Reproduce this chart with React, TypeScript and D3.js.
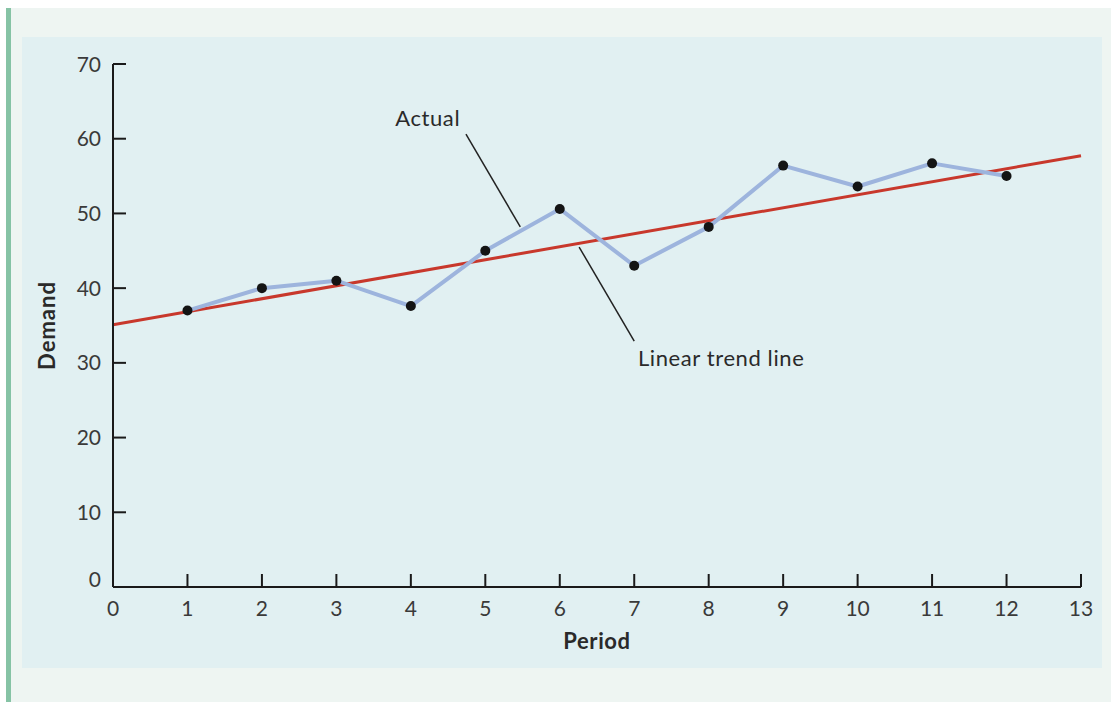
import React from "react";
import * as d3 from "d3";

const periods = [1, 2, 3, 4, 5, 6, 7, 8, 9, 10, 11, 12];
const demand = [37, 40, 41, 37.6, 45, 50.6, 43, 48.2, 56.4, 53.6, 56.7, 55];
const xTicks = [0, 1, 2, 3, 4, 5, 6, 7, 8, 9, 10, 11, 12, 13];
const yTicks = [0, 10, 20, 30, 40, 50, 60, 70];
const trendIntercept = 35.1;
const trendSlope = 1.74;
const trendRange = [0, 13];
const xLabel = "Period";
const yLabel = "Demand";
const annotations = [
  { text: "Actual", tx: 3.79, ty: 61.7, x1: 4.74, y1: 60.6, x2: 5.47, y2: 48.2 },
  { text: "Linear trend line", tx: 7.05, ty: 29.6, x1: 6.26, y1: 45.5, x2: 7.0, y2: 32.9 },
];

const W = 1111;
const H = 702;
const FONT = "Lato, 'Open Sans', sans-serif";

export default function App() {
  const x = d3.scaleLinear().domain([0, 13]).range([113, 1081]);
  const y = d3.scaleLinear().domain([0, 70]).range([587, 64]);
  const actualLine = d3
    .line<number>()
    .x((_, i) => x(periods[i]))
    .y((d) => y(d))(demand) as string;
  const trend = d3
    .line<number>()
    .x((d) => x(d))
    .y((d) => y(trendIntercept + trendSlope * d))(trendRange) as string;

  return (
    <svg
      width={W}
      height={H}
      style={{ position: "fixed", left: 0, top: 0, display: "block" }}
      fontFamily={FONT}
    >
      <rect x={0} y={0} width={W} height={H} fill="#ffffff" />
      <rect x={6} y={8} width={W - 6} height={H - 8} fill="#eef5f2" />
      <rect x={6} y={8} width={5} height={H - 8} fill="#86c3a5" />
      <rect x={22} y={37} width={1080} height={631} fill="#e1f0f2" />

      {/* trend line */}
      <path d={trend} fill="none" stroke="#c8382c" strokeWidth={3} />
      {/* actual */}
      <path d={actualLine} fill="none" stroke="#9db4dd" strokeWidth={4} strokeLinejoin="round" />
      {demand.map((d, i) => (
        <circle key={i} cx={x(periods[i])} cy={y(d)} r={5} fill="#141414" />
      ))}

      {/* axes */}
      <line x1={x(0)} x2={x(13)} y1={y(0)} y2={y(0)} stroke="#1a1a1a" strokeWidth={2} />
      <line x1={x(0)} x2={x(0)} y1={y(0)} y2={y(70)} stroke="#1a1a1a" strokeWidth={2} />
      {xTicks.map((t) => (
        <g key={"x" + t}>
          <line x1={x(t)} x2={x(t)} y1={y(0)} y2={y(0) - 13} stroke="#1a1a1a" strokeWidth={2} />
          <text x={x(t)} y={616} textAnchor="middle" fontSize={21} fill="#3a3a3a">
            {t}
          </text>
        </g>
      ))}
      {yTicks.map((t) => (
        <g key={"y" + t}>
          <line x1={x(0)} x2={x(0) + 13} y1={y(t)} y2={y(t)} stroke="#1a1a1a" strokeWidth={2} />
          <text
            x={101}
            y={y(t) + (t === 0 ? 0 : 7.5)}
            textAnchor="end"
            fontSize={21}
            fill="#3a3a3a"
          >
            {t}
          </text>
        </g>
      ))}

      <text
        x={597}
        y={649}
        textAnchor="middle"
        fontSize={22}
        fontWeight="bold"
        letterSpacing={0.6}
        fill="#2a2a2a"
      >
        {xLabel}
      </text>
      <text
        transform={`translate(55, ${y(35)}) rotate(-90)`}
        textAnchor="middle"
        fontSize={22}
        fontWeight="bold"
        letterSpacing={1}
        fill="#2a2a2a"
      >
        {yLabel}
      </text>

      {annotations.map((a, i) => (
        <g key={"a" + i}>
          <line x1={x(a.x1)} y1={y(a.y1)} x2={x(a.x2)} y2={y(a.y2)} stroke="#222" strokeWidth={1.5} />
          <text x={x(a.tx)} y={y(a.ty)} fontSize={22} letterSpacing={0.6} fill="#2a2a2a">
            {a.text}
          </text>
        </g>
      ))}
    </svg>
  );
}
